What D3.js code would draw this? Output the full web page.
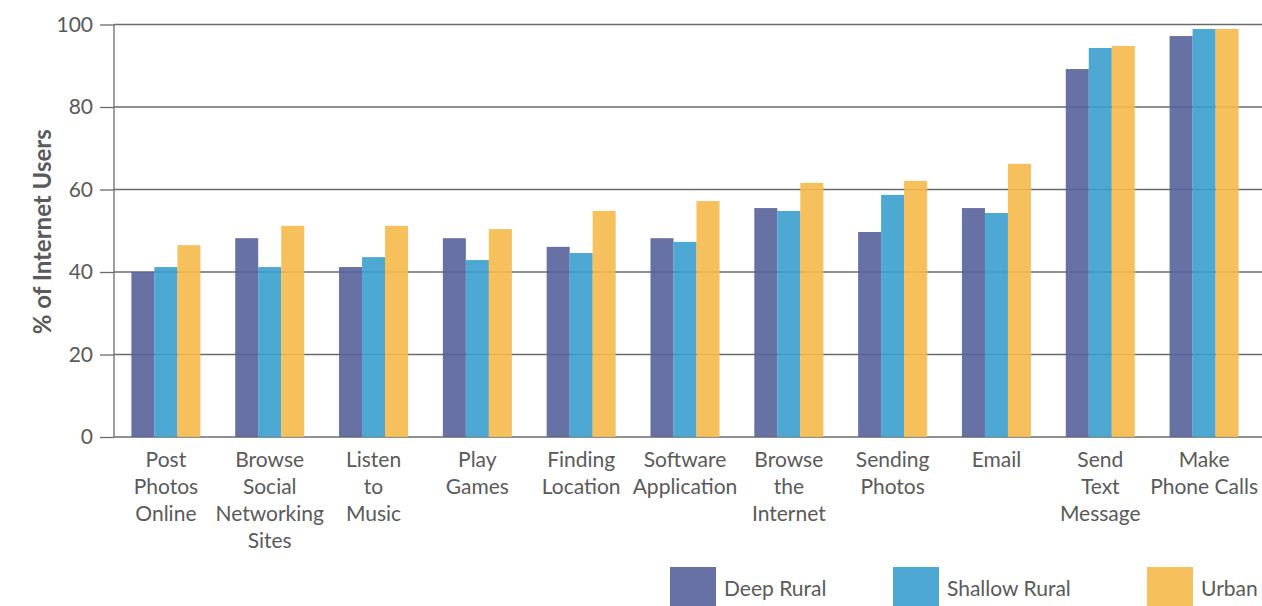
<!DOCTYPE html>
<html>
<head>
<meta charset="utf-8">
<script src="https://cdn.jsdelivr.net/npm/d3@7"></script>
<style>
  body { margin: 0; background: #fff; }
  svg { display: block; font-family: Lato, "Open Sans", sans-serif; }
</style>
</head>
<body>
<div id="chart"></div>
<script>
// Activities (x labels, split into lines)
const categories = [
    ["Post", "Photos", "Online"],
    ["Browse", "Social", "Networking", "Sites"],
    ["Listen", "to", "Music"],
    ["Play", "Games"],
    ["Finding", "Location"],
    ["Software", "Application"],
    ["Browse", "the", "Internet"],
    ["Sending", "Photos"],
    ["Email"],
    ["Send", "Text", "Message"],
    ["Make", "Phone Calls"]
];
const seriesNames = ["Deep Rural", "Shallow Rural", "Urban"];
const deepRural    = [40.0, 48.2, 41.2, 48.2, 46.1, 48.2, 55.5, 49.7, 55.5, 89.2, 97.2];
const shallowRural = [41.2, 41.2, 43.6, 42.9, 44.6, 47.3, 54.8, 58.7, 54.3, 94.3, 98.9];
const urban        = [46.5, 51.2, 51.2, 50.4, 54.8, 57.2, 61.6, 62.1, 66.2, 94.8, 98.9];
const yTicks = [0, 20, 40, 60, 80, 100];
const colors = ["#56629a", "#3a9fce", "#f5b94a"];

const W = 1262, H = 606;
const x0 = 114, x1 = 1256, yTop = 24.5, yBottom = 437;

const svg = d3.select("#chart").append("svg")
    .attr("width", W)
    .attr("height", H);

const idx = d3.range(categories.length);
const x = d3.scaleBand()
    .domain(idx)
    .range([x0, x1])
    .paddingInner(0.335)
    .paddingOuter(0.1675);
const xSub = d3.scaleBand()
    .domain([0, 1, 2])
    .range([0, x.bandwidth()]);
const y = d3.scaleLinear()
    .domain([0, 100])
    .range([yBottom, yTop]);

// gridlines + ticks
svg.append("g")
    .attr("transform", "translate(" + x0 + ",0)")
    .call(d3.axisLeft(y).tickValues(yTicks).tickSize(14).tickFormat(d3.format("d")))
    .call(g => g.select(".domain").remove())
    .call(g => g.selectAll(".tick line").attr("stroke", "#6b6b6b").attr("stroke-width", 1.3))
    .call(g => g.selectAll(".tick text")
        .attr("fill", "#5a5a5a").attr("font-size", 21).attr("font-family", "Lato").attr("x", -21));

svg.append("g").selectAll("line")
    .data(yTicks)
    .enter().append("line")
    .attr("x1", x0).attr("x2", W)
    .attr("y1", d => y(d)).attr("y2", d => y(d))
    .attr("stroke", "#6b6b6b")
    .attr("stroke-width", 1.3);

// y axis line
svg.append("line")
    .attr("x1", x0).attr("x2", x0)
    .attr("y1", y(100)).attr("y2", y(0))
    .attr("stroke", "#6b6b6b")
    .attr("stroke-width", 1.3);

// bars
const series = [deepRural, shallowRural, urban];
series.forEach((vals, s) => {
    svg.append("g").selectAll("rect")
        .data(vals)
        .enter().append("rect")
        .attr("x", (d, i) => x(i) + xSub(s))
        .attr("y", d => y(d))
        .attr("width", xSub.bandwidth())
        .attr("height", d => y(0) - y(d))
        .attr("fill", colors[s])
        .attr("fill-opacity", 0.9);
});

// x labels
const labels = svg.append("g").selectAll("text")
    .data(categories)
    .enter().append("text")
    .attr("text-anchor", "middle")
    .attr("font-size", 21)
    .attr("fill", "#5a5a5a");
labels.each(function (lines, i) {
    d3.select(this).selectAll("tspan")
        .data(lines)
        .enter().append("tspan")
        .attr("x", x(i) + x.bandwidth() / 2)
        .attr("y", (d, j) => 467 + j * 27)
        .text(d => d);
});

// y title
svg.append("text")
    .attr("transform", "translate(51," + ((yTop + yBottom) / 2 + 1) + ") rotate(-90)")
    .attr("text-anchor", "middle")
    .attr("font-size", 24)
    .attr("font-weight", "bold")
    .attr("fill", "#5a5a5a")
    .text("% of Internet Users");

// legend
const legendX = [670, 893, 1147];
const legend = svg.append("g").selectAll("g")
    .data(seriesNames)
    .enter().append("g")
    .attr("transform", (d, i) => "translate(" + legendX[i] + ",567)");
legend.append("rect")
    .attr("width", 46).attr("height", 40)
    .attr("fill", (d, i) => colors[i])
    .attr("fill-opacity", 0.9);
legend.append("text")
    .attr("x", 54).attr("y", 29)
    .attr("font-size", 21)
    .attr("fill", "#5a5a5a")
    .text(d => d);
</script>
</body>
</html>
